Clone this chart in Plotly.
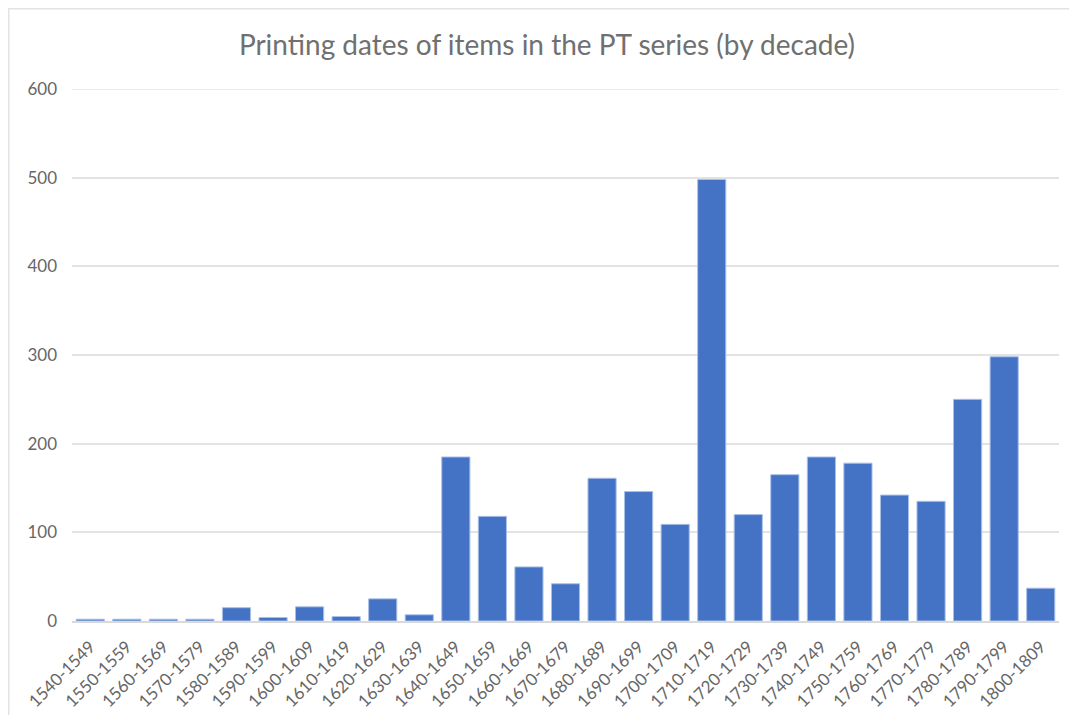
import plotly.graph_objects as go

decades = ["1540-1549", "1550-1559", "1560-1569", "1570-1579", "1580-1589", "1590-1599",
           "1600-1609", "1610-1619", "1620-1629", "1630-1639", "1640-1649", "1650-1659",
           "1660-1669", "1670-1679", "1680-1689", "1690-1699", "1700-1709", "1710-1719",
           "1720-1729", "1730-1739", "1740-1749", "1750-1759", "1760-1769", "1770-1779",
           "1780-1789", "1790-1799", "1800-1809"]
counts = [2, 2, 2, 2, 15, 4, 16, 5, 25, 7, 185, 118, 61, 42, 161, 146, 109, 498,
          120, 165, 185, 178, 142, 135, 250, 298, 37]
y_ticks = [0, 100, 200, 300, 400, 500, 600]
title_text = "Printing dates of items in the PT series (by decade)"

# page body has an 8px margin; figure occupies (8,8) onward
OFF = 8
W, H = 1077 - 2 * OFF, 723 - 2 * OFF
L = 72 - OFF
T = 89 - OFF
R = (W + OFF) - 1059
B = (H + OFF) - 621
pw, ph = W - L - R, H - T - B


def px_x(p):
    return (p - L) / pw


def px_y(p):
    return (H - B - p) / ph


fig = go.Figure(go.Bar(
    x=decades, y=counts,
    marker=dict(color="#4472C4", line=dict(color="#A9C0E8", width=1)),
))

fig.update_layout(
    width=W, height=H,
    margin=dict(l=L, r=R, t=T, b=B, autoexpand=False),
    paper_bgcolor="white", plot_bgcolor="white",
    bargap=0.23,
    showlegend=False,
    title=dict(text=title_text, x=px_x(547 - OFF), xanchor="center", xref="paper",
               y=1 - (45 - OFF) / H, yanchor="middle",
               font=dict(family="Lato, sans-serif", size=28, color="#707070")),
    xaxis=dict(tickangle=-45, tickfont=dict(family="Lato, sans-serif", size=17, color="#666666"),
               showgrid=False, showline=True, linecolor="#D9D9D9", linewidth=2,
               ticks="", ticklabelstandoff=7, automargin=False),
    yaxis=dict(range=[0, 600], tickvals=y_ticks, showgrid=True, gridcolor="#E3E3E3", gridwidth=1.5,
               zeroline=False, showline=False, ticks="", automargin=False,
               tickfont=dict(family="Lato, sans-serif", size=17, color="#666666"),
               ticklabelstandoff=14),
    shapes=[
        dict(type="line", xref="paper", yref="y", x0=0, x1=1, y0=y_ticks[-1], y1=y_ticks[-1],
             line=dict(color="#E3E3E3", width=1.5), layer="below"),
        dict(type="line", xref="paper", yref="paper", x0=px_x(0), x1=px_x(W + 5),
             y0=px_y(0.75), y1=px_y(0.75), line=dict(color="#E3E3E3", width=1.5)),
        dict(type="line", xref="paper", yref="paper", x0=px_x(0.75), x1=px_x(0.75),
             y0=px_y(0), y1=px_y(H + 5), line=dict(color="#E3E3E3", width=1.5)),
    ],
)

fig.write_html("out.html")
